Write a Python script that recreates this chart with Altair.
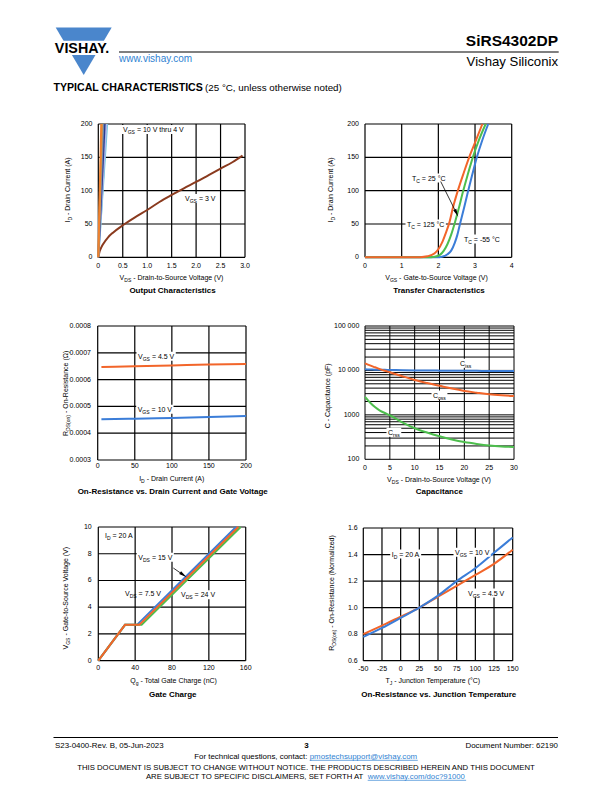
import math
import altair as alt
import pandas as pd

FONT = "Liberation Sans"
OFF = 8.0
BLUE = "#3B7DD8"
ORANGE = "#F2652A"
GREEN = "#4DBE4D"
BROWN = "#8A3A1E"
LINK = "#2F82D2"
LOGO = "#4A86CC"

# ======================= DATA =======================
# Output characteristics (VGS = 3 V)
oc_vds_3v = [0, 0.02, 0.05, 0.1, 0.2, 0.3, 0.5, 0.75, 1.0, 1.25, 1.5, 1.75, 2.0, 2.25, 2.5, 2.75, 2.95]
oc_id_3v = [0, 7, 13, 20, 30, 37, 48, 60, 71, 83, 93.5, 103.5, 113, 123, 133, 143, 152.5]
# VGS = 10 V thru 4 V: VDS where ID reaches 200 A
oc_high_vds = [0.18, 0.165, 0.13, 0.10, 0.075, 0.06]
oc_high_id = [0, 200]

# Transfer characteristics
tr_vgs_125 = [0, 1.5, 1.7, 1.9, 2.0, 2.1, 2.2, 2.3, 2.4, 2.52, 2.7, 2.84, 3.0, 3.2]
tr_id_125 = [0, 0.2, 1.5, 6, 12, 22, 36, 52, 75, 98, 128, 150, 172, 200]
tr_vgs_25 = [0, 1.7, 1.9, 2.05, 2.15, 2.25, 2.35, 2.44, 2.55, 2.66, 2.8, 2.94, 3.1, 3.29]
tr_id_25 = [0, 0, 0.8, 4, 10, 20, 34, 50, 72, 96, 124, 150, 175, 200]
tr_vgs_m55 = [0, 1.95, 2.1, 2.25, 2.35, 2.45, 2.52, 2.59, 2.7, 2.8, 2.92, 3.05, 3.2, 3.36]
tr_id_m55 = [0, 0, 0.8, 4.5, 10, 22, 34, 50, 74, 97, 123, 150, 176, 200]

# On-resistance vs drain current
rd_id = [5, 50, 100, 150, 200]
rd_45v = [0.000647, 0.00065, 0.000653, 0.000656, 0.000658]
rd_10v = [0.000452, 0.000454, 0.000457, 0.00046, 0.000464]

# Capacitance
cap_vds = [0, 1, 2, 3, 4, 5, 7.5, 10, 12.5, 15, 17.5, 20, 22.5, 25, 27.5, 30]
cap_ciss = [10600, 10500, 10400, 10350, 10300, 10250, 10100, 10000, 9950, 9900, 9850, 9800, 9780, 9750, 9720, 9700]
cap_coss = [14500, 13000, 11800, 10700, 9800, 9100, 7400, 6100, 5200, 4500, 3900, 3450, 3150, 2900, 2750, 2650]
cap_crss = [2550, 1900, 1500, 1250, 1100, 980, 680, 500, 400, 330, 280, 245, 222, 205, 195, 190]

# Gate charge
gc_q_a = [0, 29, 42, 149.5]
gc_v_a = [0, 2.68, 2.68, 10]
gc_q_b = [0, 29, 47, 154.5]
gc_v_b = [0, 2.68, 2.68, 10]
gc_q_c = [0, 29, 44.5, 152]
gc_v_c = [0, 2.68, 2.68, 10]

# On-resistance vs junction temperature
tj = [-50, -25, 0, 25, 50, 75, 100, 125, 150]
rn_10v = [0.779, 0.847, 0.923, 1.0, 1.09, 1.2, 1.297, 1.413, 1.529]
rn_45v = [0.80, 0.865, 0.931, 1.0, 1.082, 1.163, 1.246, 1.33, 1.436]

# ======================= HELPERS =======================
ONE = pd.DataFrame({"k": [0]})
SUB = 0.72

AW = {" ": 278, "!": 278, "(": 333, ")": 333, "-": 333, ".": 278, ",": 278, "/": 278, ":": 278,
      "=": 584, "°": 400, "@": 1015, "?": 556, "Ω": 768}
for _d in "0123456789":
    AW[_d] = 556
AW.update(dict(A=667, B=667, C=722, D=722, E=667, F=611, G=778, H=722, I=278, J=500, K=667, L=556,
               M=833, N=722, O=778, P=667, Q=778, R=722, S=667, T=611, U=722, V=667, W=944, X=667,
               Y=667, Z=611))
AW.update(dict(a=556, b=556, c=500, d=556, e=556, f=278, g=556, h=556, i=222, j=222, k=500, l=222,
               m=833, n=556, o=556, p=556, q=556, r=333, s=500, t=278, u=556, v=500, w=722, x=500,
               y=500, z=500))


def tw(s, size):
    return sum(AW.get(c, 556) for c in s) * size / 1000.0


def T(s, X, Y, size=7, bold=False, color="black", align="left", baseline="alphabetic", angle=None):
    kw = dict(text=s, font=FONT, fontSize=size, fontWeight="bold" if bold else "normal",
              color=color, align=align, baseline=baseline)
    if angle is not None:
        kw["angle"] = angle
    return alt.Chart(ONE).mark_text(**kw).encode(x=alt.value(X - OFF), y=alt.value(Y - OFF))


def R(x0, x1, y0, y1, color="white"):
    return alt.Chart(ONE).mark_rect(color=color, opacity=1).encode(
        x=alt.value(x0 - OFF), x2=alt.value(x1 - OFF), y=alt.value(y0 - OFF), y2=alt.value(y1 - OFF))


def HL(x0, x1, y, color="black", w=1.0):
    return alt.Chart(ONE).mark_rule(color=color, strokeWidth=w).encode(
        x=alt.value(x0 - OFF), x2=alt.value(x1 - OFF), y=alt.value(y - OFF))


def ARROW(x0, y0, x1, y1):
    dx, dy = x1 - x0, y1 - y0
    L = math.hypot(dx, dy)
    ux, uy = dx / L, dy / L
    ang = math.degrees(math.atan2(ux, -uy)) % 360
    h = 4.0
    cx, cy = x1 - ux * h, y1 - uy * h
    line = alt.Chart(ONE).mark_rule(color="black", strokeWidth=0.8).encode(
        x=alt.value(x0 - OFF), y=alt.value(y0 - OFF), x2=alt.value(cx - OFF), y2=alt.value(cy - OFF))
    head = alt.Chart(ONE).mark_point(shape="M0,-1L0.42,1L-0.42,1Z", filled=True, size=(2 * h) ** 2,
                                     angle=ang, color="black", opacity=1, strokeWidth=0).encode(
        x=alt.value(cx - OFF), y=alt.value(cy - OFF))
    return [line, head]


def segs_layout(segs, size):
    """Return (text, fontsize, start_offset, is_sub) for each segment; leading spaces become advance."""
    out = []
    pos = 0.0
    for t, s in segs:
        fs = size * SUB if s else size
        stripped = t.lstrip(" ")
        lead = tw(t[:len(t) - len(stripped)], fs)
        out.append((stripped, fs, pos + lead, s))
        pos += tw(t, fs)
    return out, pos


def lab(segs, left, yc, box=False, size=7):
    parts, total = segs_layout(segs, size)
    out = []
    if box:
        out.append(R(left - 1.5, left + total + 1.5, yc - 4.5, yc + 4.5))
    for t, fs, p, s in parts:
        d = 0.3 * size if s else 0
        out.append(T(t, left + p, yc + 0.36 * size + d, size=fs))
    return out


def title(segs, xc, yc, vertical=False, size=7):
    parts, total = segs_layout(segs, size)
    out = []
    for t, fs, p, s in parts:
        d = 0.3 * size if s else 0
        pos = p - total / 2
        if vertical:
            out.append(T(t, xc + 0.36 * size + d, yc - pos, size=fs, angle=270))
        else:
            out.append(T(t, xc + pos, yc + 0.36 * size + d, size=fs))
    return out


def panel(P, series, xticks, xlabels, yticks, ylabels, gx, gy, xlab_y, ylab_x, ytype="linear", gw=1.2):
    xs = alt.Scale(domain=P["xd"], range=[P["x0"] - OFF, P["x1"] - OFF], nice=False, zero=False)
    if ytype == "log":
        ys = alt.Scale(type="log", domain=P["yd"], range=[P["y1"] - OFF, P["y0"] - OFF], nice=False)
    else:
        ys = alt.Scale(domain=P["yd"], range=[P["y1"] - OFF, P["y0"] - OFF], nice=False, zero=False)
    sub = []
    gvd = pd.DataFrame({"g": gx, "lo": P["yd"][0], "hi": P["yd"][1]})
    sub.append(alt.Chart(gvd).mark_rule(color="black", strokeWidth=gw).encode(
        x=alt.X("g:Q", scale=xs, axis=None), y=alt.Y("lo:Q", scale=ys, axis=None), y2="hi:Q"))
    ghd = pd.DataFrame({"g": gy, "lo": P["xd"][0], "hi": P["xd"][1]})
    sub.append(alt.Chart(ghd).mark_rule(color="black", strokeWidth=gw).encode(
        y=alt.Y("g:Q", scale=ys, axis=None), x=alt.X("lo:Q", scale=xs, axis=None), x2="hi:Q"))
    for xv, yv, col, interp in series:
        df = pd.DataFrame({"x": xv, "y": yv})
        sub.append(alt.Chart(df).mark_line(color=col, strokeWidth=2, interpolate=interp).encode(
            x=alt.X("x:Q", scale=xs, axis=None), y=alt.Y("y:Q", scale=ys, axis=None)))
    sub.append(alt.Chart(pd.DataFrame({"v": xticks, "t": xlabels})).mark_text(
        font=FONT, fontSize=7, align="center", baseline="middle", color="black").encode(
        x=alt.X("v:Q", scale=xs, axis=None), y=alt.value(xlab_y - OFF), text="t:N"))
    sub.append(alt.Chart(pd.DataFrame({"v": yticks, "t": ylabels})).mark_text(
        font=FONT, fontSize=7, align="right", baseline="middle", color="black").encode(
        y=alt.Y("v:Q", scale=ys, axis=None), x=alt.value(ylab_x - OFF), text="t:N"))
    return alt.layer(*sub)


layers = []

# ---------------- Panel A: Output characteristics ----------------
PA = dict(x0=98.3, x1=245.0, y0=124.0, y1=257.3, xd=[0, 3], yd=[0, 200])
high_cols = ["#62C8DE", "#AEB6EA", "#2A3C8E", "#7484A8", "#C99A52", "#F0812E"]
serA = [(oc_vds_3v, oc_id_3v, BROWN, "monotone")]
for v, c in zip(oc_high_vds, high_cols):
    serA.append(([0, v], oc_high_id, c, "linear"))
xa = [0, 0.5, 1.0, 1.5, 2.0, 2.5, 3.0]
ya = [0, 50, 100, 150, 200]
layers.append(panel(PA, serA, xa, ["0", "0.5", "1.0", "1.5", "2.0", "2.5", "3.0"], ya,
                    [str(v) for v in ya], xa, ya, 265.7, 92.5))

# ---------------- Panel B: Transfer characteristics ----------------
PB = dict(x0=365.0, x1=511.7, y0=124.0, y1=257.3, xd=[0, 4], yd=[0, 200])
serB = [(tr_vgs_m55, tr_id_m55, BLUE, "monotone"),
        (tr_vgs_25, tr_id_25, GREEN, "monotone"),
        (tr_vgs_125, tr_id_125, ORANGE, "monotone")]
xb = [0, 1, 2, 3, 4]
layers.append(panel(PB, serB, xb, [str(v) for v in xb], ya, [str(v) for v in ya], xb, ya, 265.7, 359.0))

# ---------------- Panel C: On-resistance vs drain current ----------------
PC = dict(x0=97.7, x1=246.0, y0=326.0, y1=460.0, xd=[0, 200], yd=[0.0003, 0.0008])
serC = [(rd_id, rd_45v, ORANGE, "monotone"), (rd_id, rd_10v, BLUE, "monotone")]
xc = [0, 50, 100, 150, 200]
yc_ = [0.0003, 0.0004, 0.0005, 0.0006, 0.0007, 0.0008]
layers.append(panel(PC, serC, xc, [str(v) for v in xc], yc_, ["%.4f" % v for v in yc_], xc, yc_, 466.0, 91.0))

# ---------------- Panel D: Capacitance ----------------
PD = dict(x0=365.0, x1=514.0, y0=326.0, y1=459.3, xd=[0, 30], yd=[100, 100000])
serD = [(cap_vds, cap_ciss, BLUE, "monotone"), (cap_vds, cap_coss, ORANGE, "monotone"),
        (cap_vds, cap_crss, GREEN, "monotone")]
xd_ = [0, 5, 10, 15, 20, 25, 30]
gyd = [m * 10 ** e for e in (2, 3, 4) for m in range(1, 10)] + [100000]
layers.append(panel(PD, serD, xd_, [str(v) for v in xd_], [100, 1000, 10000, 100000],
                    ["100", "1000", "10 000", "100 000"], xd_, gyd, 468.3, 359.3, ytype="log", gw=1.0))

# ---------------- Panel E: Gate charge ----------------
PE = dict(x0=98.3, x1=245.7, y0=527.0, y1=660.7, xd=[0, 160], yd=[0, 10])
serE = [(gc_q_a, gc_v_a, BLUE, "linear"), (gc_q_b, gc_v_b, GREEN, "linear"),
        (gc_q_c, gc_v_c, ORANGE, "linear")]
xe = [0, 40, 80, 120, 160]
ye = [0, 2, 4, 6, 8, 10]
layers.append(panel(PE, serE, xe, [str(v) for v in xe], ye, [str(v) for v in ye], xe, ye, 668.0, 91.7))

# ---------------- Panel F: On-resistance vs junction temperature ----------------
PF = dict(x0=363.3, x1=512.7, y0=528.0, y1=660.7, xd=[-50, 150], yd=[0.6, 1.6])
serF = [(tj, rn_45v, ORANGE, "monotone"), (tj, rn_10v, BLUE, "monotone")]
xf = [-50, -25, 0, 25, 50, 75, 100, 125, 150]
yf = [0.6, 0.8, 1.0, 1.2, 1.4, 1.6]
layers.append(panel(PF, serF, xf, [str(v) for v in xf], yf, ["%.1f" % v for v in yf], xf, yf, 668.7, 357.7))

# ---------------- annotations ----------------
layers += lab([("V", 0), ("GS", 1), (" = 10 V thru 4 V", 0)], 123, 129.5, box=True)
layers += lab([("V", 0), ("GS", 1), (" = 3 V", 0)], 185, 198.5, box=True)

layers += lab([("T", 0), ("C", 1), (" = 25 °C", 0)], 412, 178, box=True)
layers += lab([("T", 0), ("C", 1), (" = 125 °C", 0)], 407, 224, box=True)
layers += lab([("T", 0), ("C", 1), (" = -55 °C", 0)], 464, 239, box=True)
layers += ARROW(440.7, 181.5, 458.3, 216.7)

layers += lab([("V", 0), ("GS", 1), (" = 4.5 V", 0)], 138, 356.3, box=True)
layers += lab([("V", 0), ("GS", 1), (" = 10 V", 0)], 137.7, 409.3, box=True)

layers += lab([("C", 0), ("iss", 1)], 460, 363.3, box=True)
layers += lab([("C", 0), ("oss", 1)], 433, 395, box=True)
layers += lab([("C", 0), ("rss", 1)], 388, 432.3, box=True)

layers += lab([("I", 0), ("D", 1), (" = 20 A", 0)], 105, 535.3)
layers += lab([("V", 0), ("DS", 1), (" = 15 V", 0)], 138.3, 557.3, box=True)
layers += ARROW(173.3, 568, 186.7, 577.3)
layers += lab([("V", 0), ("DS", 1), (" = 7.5 V", 0)], 125, 593)
layers += lab([("V", 0), ("DS", 1), (" = 24 V", 0)], 181, 594.7, box=True)

layers += lab([("I", 0), ("D", 1), (" = 20 A", 0)], 391.7, 554, box=True)
layers += lab([("V", 0), ("GS", 1), (" = 10 V", 0)], 455, 552.3, box=True)
layers += lab([("V", 0), ("GS", 1), (" = 4.5 V", 0)], 468, 593, box=True)

# ---------------- axis titles ----------------
VDS_T = [("V", 0), ("DS", 1), (" - Drain-to-Source Voltage (V)", 0)]
ID_T = [("I", 0), ("D", 1), (" - Drain Current (A)", 0)]
VGS_T = [("V", 0), ("GS", 1), (" - Gate-to-Source Voltage (V)", 0)]
layers += title(VDS_T, 171.7, 277.3)
layers += title(ID_T, 67.3, 190, vertical=True)
layers += title(VGS_T, 436.7, 277.3)
layers += title(ID_T, 330, 190, vertical=True)
layers += title(ID_T, 171.7, 478.3)
layers += title([("R", 0), ("DS(on)", 1), (" - On-Resistance (Ω)", 0)], 65, 393.3, vertical=True)
layers += title(VDS_T, 439.2, 479)
layers += title([("C - Capacitance (pF)", 0)], 327.3, 395.8, vertical=True)
layers += title([("Q", 0), ("g", 1), (" - Total Gate Charge (nC)", 0)], 174, 680.3)
layers += title(VGS_T, 65.7, 598, vertical=True)
layers += title([("T", 0), ("J", 1), (" - Junction Temperature (°C)", 0)], 433.3, 680.3)
layers += title([("R", 0), ("DS(on)", 1), (" - On-Resistance (Normalized)", 0)], 331.7, 593, vertical=True)

# ---------------- captions ----------------
for s, x, y in [("Output Characteristics", 172.5, 291), ("Transfer Characteristics", 439, 291),
                ("On-Resistance vs. Drain Current and Gate Voltage", 172.7, 491.7),
                ("Capacitance", 439.3, 491.7), ("Gate Charge", 172.7, 694.7),
                ("On-Resistance vs. Junction Temperature", 438.8, 694.7)]:
    layers.append(T(s, x, y, size=8, bold=True, align="center", baseline="middle"))

# ---------------- header ----------------
layers.append(alt.Chart(ONE).mark_point(shape="M-1,-0.85L1,-0.85L0,0.85Z", filled=True, size=3136,
                                        color=LOGO, opacity=1, strokeWidth=0).encode(
    x=alt.value(83.7 - OFF), y=alt.value(51.2 - OFF)))
layers.append(R(50, 116, 40.7, 55.0))
layers.append(T("VISHAY.", 82, 52.7, size=14.3, bold=True, align="center"))
layers.append(HL(119, 558.7, 52, w=1.2))
layers.append(T("SiRS4302DP", 558, 46, size=15.5, bold=True, align="right"))
layers.append(T("Vishay Siliconix", 558, 65.7, size=13.2, align="right"))
layers.append(T("www.vishay.com", 119, 61.7, size=10, color=LINK))
layers.append(T("TYPICAL CHARACTERISTICS", 53.5, 91, size=10.6, bold=True))
layers.append(T("(25 °C, unless otherwise noted)", 205, 91, size=9.8))

# ---------------- footer ----------------
layers.append(HL(53.5, 558, 737.5, w=1.2))
layers.append(T("S23-0400-Rev. B, 05-Jun-2023", 55, 748, size=7.9))
layers.append(T("3", 306.5, 748, size=8, bold=True, align="center"))
layers.append(T("Document Number: 62190", 558, 748, size=7.9, align="right"))


def link_line(prefix, link, cx, base, size):
    w1, w2 = tw(prefix, size), tw(link, size)
    x0 = cx - (w1 + w2) / 2
    return [T(prefix, x0, base, size=size), T(link, x0 + w1, base, size=size, color=LINK),
            HL(x0 + w1, x0 + w1 + w2, base + 1.3, color=LINK, w=0.7)]


layers += link_line("For technical questions, contact: ", "pmostechsupport@vishay.com", 306, 759, 7.9)
line3 = "THIS DOCUMENT IS SUBJECT TO CHANGE WITHOUT NOTICE. THE PRODUCTS DESCRIBED HEREIN AND THIS DOCUMENT"
fs3 = 460.0 / tw(line3, 1)
layers.append(T(line3, 306, 770, size=fs3, align="center"))
layers += link_line("ARE SUBJECT TO SPECIFIC DISCLAIMERS, SET FORTH AT ", "www.vishay.com/doc?91000", 306, 779, fs3)

chart = alt.layer(*layers).resolve_scale(x="independent", y="independent").properties(
    width=596, height=776, padding=0, autosize=alt.AutoSizeParams(type="none"), background="white"
).configure_view(stroke=None)

chart.save("out.html", embed_options={"renderer": "svg", "actions": False})
